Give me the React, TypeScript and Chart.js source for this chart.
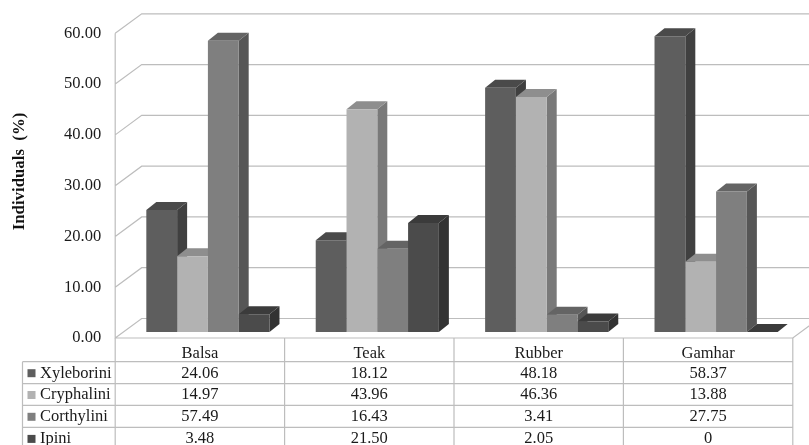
import React, { useEffect, useRef } from "react";
import { Chart, registerables } from "chart.js";

Chart.register(...registerables);

const categories = ["Balsa", "Teak", "Rubber", "Gamhar"];
const seriesNames = ["Xyleborini", "Cryphalini", "Corthylini", "Ipini"];
const xyleborini = [24.06, 18.12, 48.18, 58.37];
const cryphalini = [14.97, 43.96, 46.36, 13.88];
const corthylini = [57.49, 16.43, 3.41, 27.75];
const ipini = [3.48, 21.5, 2.05, 0];
const tableText = [
  ["24.06", "18.12", "48.18", "58.37"],
  ["14.97", "43.96", "46.36", "13.88"],
  ["57.49", "16.43", "3.41", "27.75"],
  ["3.48", "21.50", "2.05", "0"],
];
const yTitle = "Individuals  (%)";

const frontColors = ["#5e5e5e", "#b2b2b2", "#7f7f7f", "#4b4b4b"];
const sideColors = ["#404040", "#797979", "#565656", "#333333"];
const topColors = ["#4a4a4a", "#8e8e8e", "#646464", "#3b3b3b"];

const FONT = '"Liberation Serif", serif';
const LINE = "#bdbdbd";
const TEXT = "#1a1a1a";
// wall depth and bar depth of the pseudo 3D box
const WALL_DX = 26.5;
const WALL_DY = 19.5;
const BAR_DX = 10;
const BAR_DY = 8;
const X_SHIFT = 8;
const ROWS = [361.7, 383.7, 405.3, 427.3, 449.5];
const TABLE_LEFT = 22.5;

const walls = {
  id: "walls",
  beforeDatasetsDraw(chart: any) {
    const { ctx, scales, chartArea } = chart;
    const y = scales.y;
    const left = chartArea.left - X_SHIFT;
    const right = chartArea.right - X_SHIFT;
    const bottom = y.getPixelForValue(0);
    ctx.save();
    ctx.strokeStyle = LINE;
    ctx.lineWidth = 1.2;
    ctx.beginPath();
    y.ticks.forEach((t: any) => {
      const py = y.getPixelForValue(t.value);
      ctx.moveTo(left, py);
      ctx.lineTo(left + WALL_DX, py - WALL_DY);
      ctx.lineTo(chart.width, py - WALL_DY);
    });
    ctx.moveTo(left, y.getPixelForValue(y.max));
    ctx.lineTo(left, bottom);
    ctx.lineTo(right, bottom);
    ctx.lineTo(right + WALL_DX, bottom - WALL_DY);
    ctx.stroke();

    // sides and tops of the bars, from left to right
    chart.data.datasets.forEach((_: any, d: number) => {
      chart.getDatasetMeta(d).data.forEach((bar: any) => {
        const l = bar.x - bar.width / 2;
        const r = bar.x + bar.width / 2;
        ctx.fillStyle = sideColors[d];
        ctx.beginPath();
        ctx.moveTo(r, bar.y);
        ctx.lineTo(r + BAR_DX, bar.y - BAR_DY);
        ctx.lineTo(r + BAR_DX, bar.base - BAR_DY);
        ctx.lineTo(r, bar.base);
        ctx.closePath();
        ctx.fill();
        ctx.fillStyle = topColors[d];
        ctx.beginPath();
        ctx.moveTo(l, bar.y);
        ctx.lineTo(l + BAR_DX, bar.y - BAR_DY);
        ctx.lineTo(r + BAR_DX, bar.y - BAR_DY);
        ctx.lineTo(r, bar.y);
        ctx.closePath();
        ctx.fill();
      });
    });
    ctx.restore();
  },
  afterDraw(chart: any) {
    const { ctx, scales, chartArea } = chart;
    const x = scales.x;
    const left = chartArea.left - X_SHIFT;
    const right = chartArea.right - X_SHIFT;
    const top = chartArea.bottom;
    ctx.save();
    ctx.strokeStyle = LINE;
    ctx.lineWidth = 1.2;
    ctx.beginPath();
    // data table grid
    ROWS.forEach((ry) => {
      ctx.moveTo(TABLE_LEFT, ry);
      ctx.lineTo(right, ry);
    });
    ctx.moveTo(TABLE_LEFT, ROWS[0]);
    ctx.lineTo(TABLE_LEFT, ROWS[4]);
    categories.forEach((_, i) => {
      const cx = x.getPixelForTick(i) - X_SHIFT;
      const half = (right - left) / categories.length / 2;
      ctx.moveTo(cx - half, top);
      ctx.lineTo(cx - half, ROWS[4]);
      if (i === categories.length - 1) {
        ctx.moveTo(cx + half, top);
        ctx.lineTo(cx + half, ROWS[4]);
      }
    });
    ctx.stroke();

    // data table text
    ctx.font = `16.5px ${FONT}`;
    ctx.textBaseline = "middle";
    tableText.forEach((row, r) => {
      const cy = (ROWS[r] + ROWS[r + 1]) / 2 + 0.5;
      ctx.fillStyle = frontColors[r];
      ctx.fillRect(27.5, cy - 4, 8, 8);
      ctx.fillStyle = TEXT;
      ctx.textAlign = "left";
      ctx.fillText(seriesNames[r], 40, cy);
      ctx.textAlign = "center";
      row.forEach((cell, i) => {
        ctx.fillText(cell, x.getPixelForTick(i) - X_SHIFT, cy);
      });
    });

    // y axis title
    ctx.translate(24, 171.5);
    ctx.rotate(-Math.PI / 2);
    ctx.font = `bold 16.8px ${FONT}`;
    ctx.textAlign = "center";
    ctx.textBaseline = "alphabetic";
    ctx.fillStyle = "#111";
    ctx.fillText(yTitle, 0, 0);
    ctx.restore();
  },
};

export default function App() {
  const ref = useRef<HTMLCanvasElement>(null);
  useEffect(() => {
    const data = [xyleborini, cryphalini, corthylini, ipini];
    const chart = new Chart(ref.current!, {
      type: "bar",
      data: {
        labels: categories,
        datasets: seriesNames.map((label, i) => ({
          label,
          data: data[i],
          backgroundColor: frontColors[i],
          yAxisID: "y2",
          categoryPercentage: 0.727,
          barPercentage: 1,
        })),
      },
      plugins: [walls],
      options: {
        animation: false,
        responsive: false,
        devicePixelRatio: 1,
        layout: { padding: { left: 0, right: 8.2, top: 33.3, bottom: 0 } },
        plugins: { legend: { display: false }, tooltip: { enabled: false } },
        scales: {
          x: {
            grid: { display: false },
            border: { display: false },
            afterFit(s: any) {
              s.height = 107;
            },
            ticks: {
              labelOffset: -X_SHIFT,
              padding: -2,
              maxRotation: 0,
              color: TEXT,
              font: { family: FONT, size: 16.5 },
            },
          },
          y: {
            min: 0,
            max: 60,
            grid: { display: false },
            border: { display: false },
            afterFit(s: any) {
              s.width = 123.2;
            },
            ticks: {
              stepSize: 10,
              padding: 14,
              color: TEXT,
              font: { family: FONT, size: 16.5 },
              callback: (v: any) => Number(v).toFixed(2),
            },
          },
          y2: { display: false, min: -1.184, max: 58.95 },
        },
      },
    } as any);
    return () => chart.destroy();
  }, []);
  return (
    <div style={{ position: "fixed", left: 0, top: 0, width: 809, height: 445, background: "#fff" }}>
      <canvas ref={ref} width={809} height={445} style={{ display: "block" }} />
    </div>
  );
}
